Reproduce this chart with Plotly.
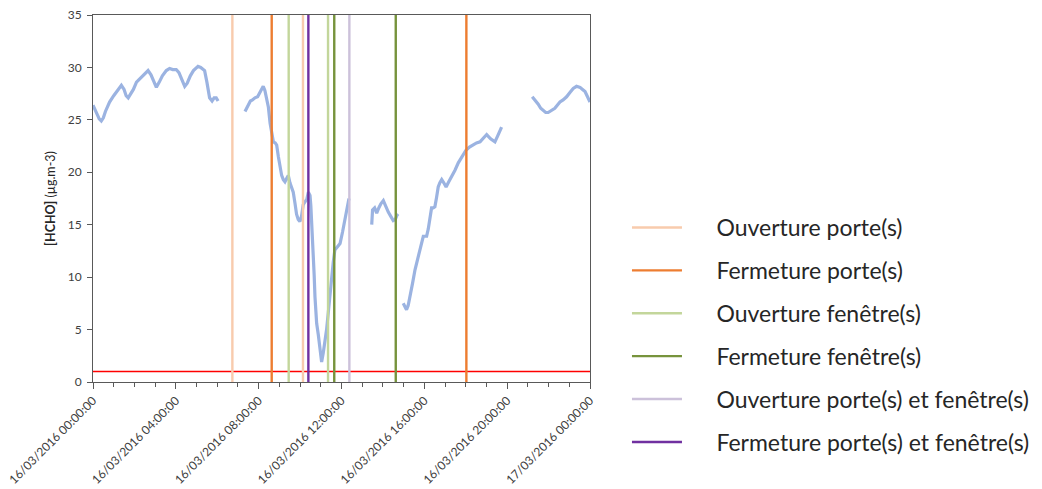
import pandas as pd
import plotly.graph_objects as go

BASE = pd.Timestamp("2016-03-16 00:00:00")

# HCHO concentration, hours since 16/03/2016 00:00 and value (µg.m-3); gaps between segments
seg1_h = [0.0, 0.1, 0.2, 0.3, 0.4, 0.5, 0.6, 0.8, 1.0, 1.2, 1.37, 1.5, 1.6, 1.7, 1.8, 1.95, 2.1, 2.3, 2.5, 2.66,
          2.8, 2.95, 3.06, 3.2, 3.35, 3.54, 3.7, 3.85, 4.02, 4.15, 4.3, 4.43, 4.55, 4.7, 4.85, 5.07, 5.2, 5.39,
          5.5, 5.63, 5.75, 5.85, 5.95, 6.04]
seg1_v = [26.4, 26.0, 25.5, 25.1, 24.9, 25.2, 25.8, 26.7, 27.3, 27.8, 28.3, 27.9, 27.3, 27.1, 27.4, 27.9, 28.6,
          29.0, 29.3, 29.7, 29.3, 28.6, 28.1, 28.6, 29.2, 29.7, 29.9, 29.8, 29.8, 29.5, 28.8, 28.2, 28.5, 29.2,
          29.7, 30.1, 30.0, 29.7, 28.6, 27.1, 26.8, 27.1, 27.1, 26.8]

seg2_h = [7.34, 7.45, 7.6, 7.7, 7.82, 7.95, 8.1, 8.22, 8.3, 8.39, 8.47, 8.55, 8.63, 8.71, 8.8, 8.87, 8.95, 9.03,
          9.11, 9.19, 9.27, 9.35, 9.43, 9.51, 9.59, 9.67, 9.75, 9.83, 9.91, 9.99, 10.07, 10.15, 10.24, 10.32,
          10.40, 10.48, 10.52, 10.56, 10.6, 10.64, 10.68, 10.72, 10.76, 10.80, 10.88, 10.96, 11.0, 11.04, 11.12,
          11.2, 11.28, 11.36, 11.44, 11.52, 11.6, 11.68, 11.8, 11.93, 12.05, 12.17, 12.25, 12.33, 12.36]
seg2_v = [25.8, 26.3, 26.8, 26.9, 27.1, 27.2, 27.7, 28.2, 27.8, 26.9, 26.2, 24.7, 23.6, 22.9, 22.8, 22.6, 21.5,
          20.5, 19.7, 19.3, 19.1, 19.4, 19.7, 19.0, 18.6, 18.1, 17.1, 16.0, 15.5, 15.3, 15.8, 16.9, 17.2, 17.4,
          18.1, 17.8, 16.8, 15.4, 13.9, 12.3, 10.2, 8.1, 6.8, 5.6, 4.5, 3.4, 2.6, 1.9, 2.8, 3.7, 5.0, 6.6, 8.4,
          10.0, 11.4, 12.6, 12.9, 13.2, 14.3, 15.4, 16.3, 17.2, 17.5]

seg3_h = [13.46, 13.5, 13.6, 13.7, 13.8, 13.9, 14.02, 14.1, 14.18, 14.26, 14.38, 14.5, 14.6, 14.68, 14.74]
seg3_v = [15.0, 16.4, 16.6, 16.1, 16.6, 17.0, 17.3, 16.9, 16.5, 16.2, 15.8, 15.4, 15.5, 15.9, 15.8]

seg4_h = [14.98, 15.06, 15.14, 15.22, 15.31, 15.43, 15.55, 15.67, 15.79, 15.87, 15.95, 16.03, 16.11, 16.19,
          16.27, 16.35, 16.43, 16.51, 16.59, 16.67, 16.75, 16.84, 16.94, 17.05, 17.18, 17.32, 17.48, 17.64,
          17.82, 18.01, 18.18, 18.36, 18.52, 18.69, 18.85, 19.01, 19.2, 19.41, 19.57, 19.73]
seg4_v = [7.5, 7.1, 6.9, 7.3, 8.1, 9.4, 10.7, 11.7, 12.6, 13.3, 13.9, 13.9, 13.9, 14.6, 15.4, 16.6, 16.6, 16.7,
          17.6, 18.6, 19.0, 19.3, 19.0, 18.6, 19.1, 19.6, 20.2, 20.9, 21.5, 22.1, 22.4, 22.6, 22.8, 22.9, 23.3,
          23.6, 23.2, 22.9, 23.6, 24.3]

seg5_h = [21.21, 21.3, 21.4, 21.5, 21.62, 21.74, 21.86, 21.98, 22.14, 22.3, 22.42, 22.55, 22.7, 22.87, 23.03,
          23.19, 23.35, 23.52, 23.64, 23.76, 23.88, 24.0]
seg5_v = [27.2, 27.0, 26.8, 26.5, 26.1, 25.9, 25.7, 25.7, 25.9, 26.1, 26.4, 26.7, 26.9, 27.2, 27.6, 28.0, 28.2,
          28.1, 27.9, 27.7, 27.2, 26.7]

# Events (hours) per category
event_names = ["Ouverture porte(s)", "Fermeture porte(s)", "Ouverture fenêtre(s)",
               "Fermeture fenêtre(s)", "Ouverture porte(s) et fenêtre(s)", "Fermeture porte(s) et fenêtre(s)"]
event_hours = [[6.73, 10.14], [8.63, 18.03], [9.45, 11.35], [11.65, 14.62], [12.38], [10.40]]
event_colors = ["#F8CBAD", "#ED7D31", "#C3D69B", "#77933C", "#CCC1DA", "#7030A0"]

threshold = 1.0
y_max = 35
tick_hours = [0, 4, 8, 12, 16, 20, 24]


def t(h):
    return BASE + pd.Timedelta(hours=h)


xs, ys = [], []
for hh, vv in [(seg1_h, seg1_v), (seg2_h, seg2_v), (seg3_h, seg3_v), (seg4_h, seg4_v), (seg5_h, seg5_v)]:
    xs += [t(h) for h in hh] + [None]
    ys += vv + [None]

fig = go.Figure()

fig.add_trace(go.Scatter(x=[t(0), t(24)], y=[threshold, threshold], mode="lines",
                         line=dict(color="#FF0000", width=1.3), showlegend=False, hoverinfo="skip"))

fig.add_trace(go.Scatter(x=xs, y=ys, mode="lines", line=dict(color="#9BB3E1", width=3.2),
                         connectgaps=False, showlegend=False, name="HCHO"))

pad = "\u00a0" * 5
for i, (name, hrs, col) in enumerate(zip(event_names, event_hours, event_colors)):
    ex, ey = [], []
    for h in hrs:
        ex += [t(h), t(h), None]
        ey += [0, y_max, None]
    fig.add_trace(go.Scatter(x=ex, y=ey, mode="lines", line=dict(color=col, width=2.4),
                             name=pad + name, legendgroup=f"g{i}"))

axis_col = "#595959"
fig.update_layout(
    width=1042, height=489,
    margin=dict(l=93, r=452, t=15, b=107),
    plot_bgcolor="white", paper_bgcolor="white",
    font=dict(family="Lato, 'Liberation Sans', sans-serif", color="#404040", size=12),
    legend=dict(xref="container", yref="container", x=0.6017, y=0.5787, xanchor="left", yanchor="top",
                tracegroupgap=10, font=dict(size=23, color="#262626"), itemwidth=50, maxheight=1.0,
                bgcolor="rgba(0,0,0,0)"),
    xaxis=dict(range=[t(0), t(24)], tickvals=[t(h) for h in tick_hours], automargin=False,
               tickformat="%d/%m/%Y %H:%M:%S", tickangle=-45,
               showgrid=False, zeroline=False, showline=True, linecolor=axis_col, linewidth=1,
               mirror=True, ticks="outside", ticklen=6, tickcolor=axis_col,
               minor=dict(dtick=3600000, ticks="outside", ticklen=4, tickcolor=axis_col, showgrid=False),
               tickfont=dict(size=12, color="#404040")),
    yaxis=dict(range=[0, y_max], dtick=5, showgrid=False, zeroline=False, showline=True, automargin=False,
               linecolor=axis_col, linewidth=1, mirror=True, ticks="outside", ticklen=5,
               tickcolor=axis_col, tickfont=dict(size=12, color="#404040"), ticklabelstandoff=3,
               title=dict(text="<b>[HCHO]</b> (µg.m-3)", font=dict(size=12.5, color="#262626"), standoff=9)),
)

fig.write_html("out.html")
